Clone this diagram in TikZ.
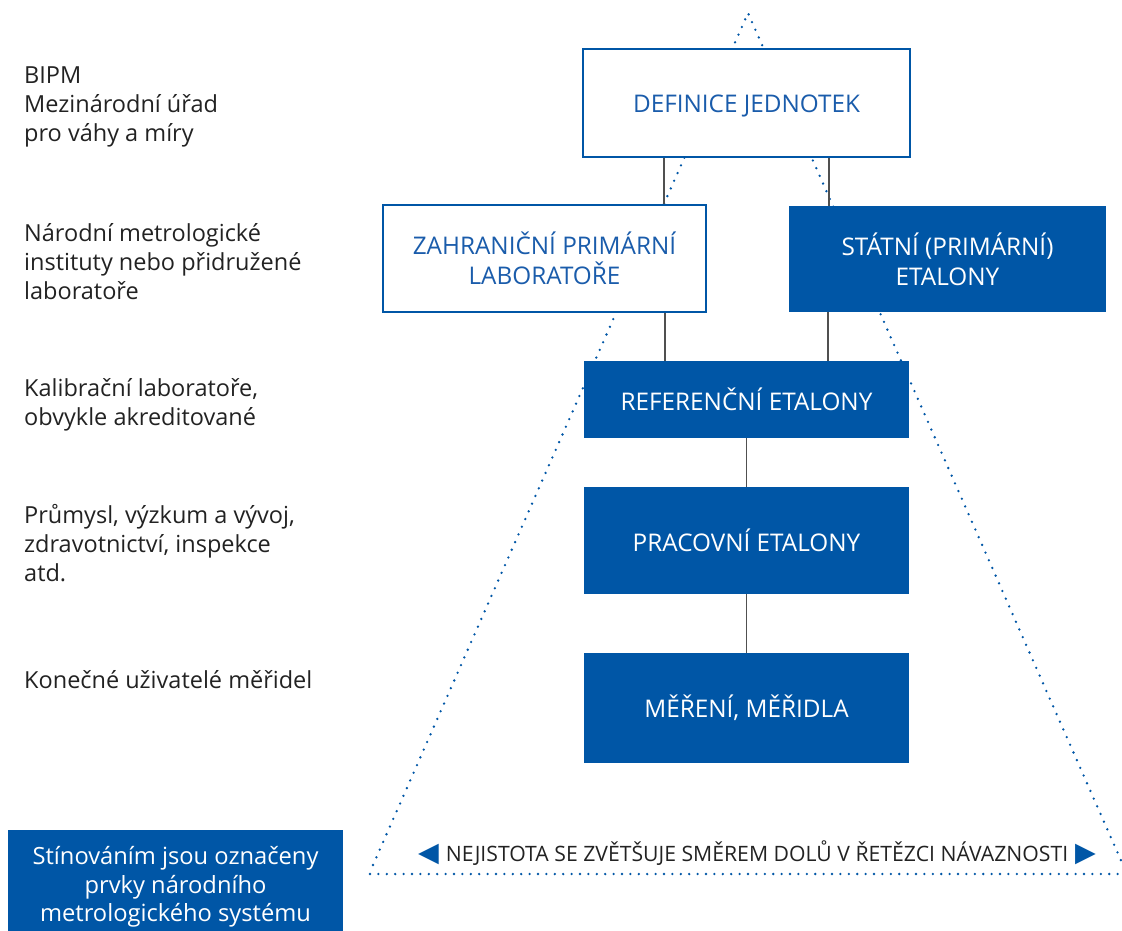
\documentclass[tikz,border=0pt]{standalone}
\usepackage{fontspec}
\setmainfont{Open Sans}
\newfontfamily\symfont{DejaVu Sans}
\usetikzlibrary{calc}
\definecolor{mblue}{HTML}{0056A6}
\definecolor{tblue}{HTML}{1A5CAB}
\definecolor{conn}{HTML}{505050}
\definecolor{ink}{HTML}{222222}
\tikzset{
  whitebox/.style={draw=mblue, line width=2.5pt, fill=white, text=tblue, inner sep=0pt, align=center, font=\fontsize{24.3}{30}\selectfont},
  bluebox/.style={fill=mblue, draw=none, text=white, inner sep=0pt, align=center, font=\fontsize{24.3}{30}\selectfont},
  sidelabel/.style={anchor=north west, align=left, text=ink, inner sep=0pt, font=\fontsize{23.5}{29}\selectfont},
  dotline/.style={draw=mblue, line width=2.6pt, line cap=round, dash pattern=on 0pt off 8.4pt},
  connector/.style={draw=conn, line width=1.5pt}
}
\begin{document}
\begin{tikzpicture}[x=1pt,y=-1pt]
\useasboundingbox (0,0) rectangle (1122,931);
% dotted uncertainty triangle
\coordinate (apex) at (748,13);
\coordinate (bl) at (373,865);
\coordinate (br) at (1123,865);
\coordinate (lb) at (370,874);
\coordinate (rb) at (1122,874);
\draw[dotline] (bl) -- (apex) -- (br);
\draw[dotline] (lb) -- (rb);
% boxes
\node[whitebox, minimum width=327pt, minimum height=108pt] (def) at (746.5,103) {\raisebox{-10pt}[0pt][0pt]{DEFINICE JEDNOTEK}};
\node[whitebox, minimum width=323pt, minimum height=107pt] (zahr) at (544.5,258.5) {ZAHRANIČNÍ PRIMÁRNÍ\\LABORATOŘE};
\node[bluebox, minimum width=317pt, minimum height=106pt] (stat) at (947.5,259) {STÁTNÍ (PRIMÁRNÍ)\\ETALONY};
\node[bluebox, minimum width=325pt, minimum height=77pt] (ref) at (746.5,399.5) {REFERENČNÍ ETALONY};
\node[bluebox, minimum width=325pt, minimum height=107pt] (prac) at (746.5,540.5) {PRACOVNÍ ETALONY};
\node[bluebox, minimum width=325pt, minimum height=110pt] (mer) at (746.5,708) {MĚŘENÍ, MĚŘIDLA};
% connectors
\coordinate (d1) at ($(def.south west)!0.25!(def.south east)$);
\coordinate (d2) at ($(def.south west)!0.75!(def.south east)$);
\coordinate (r1) at ($(ref.north west)!0.25!(ref.north east)$);
\coordinate (r2) at ($(ref.north west)!0.75!(ref.north east)$);
\draw[connector] (d1) -- (d1 |- zahr.north);
\draw[connector] (d2) -- (d2 |- stat.north);
\draw[connector] (r1 |- zahr.south) -- (r1);
\draw[connector] (r2 |- stat.south) -- (r2);
\draw[connector] (ref.south) -- (prac.north);
\draw[connector] (prac.south) -- (mer.north);
% side labels
\node[sidelabel] (l1) at (24,66.5) {BIPM\\Mezinárodní úřad\\pro váhy a míry};
\node[sidelabel] (l2) at (24,223) {Národní metrologické\\instituty nebo přidružené\\laboratoře};
\node[sidelabel] (l3) at (24,378.5) {Kalibrační laboratoře,\\obvykle akreditované};
\node[sidelabel] (l4) at (24,504) {Průmysl, výzkum a vývoj,\\zdravotnictví, inspekce\\atd.};
\node[sidelabel] (l5) at (24,670) {Konečné uživatelé měřidel};
% uncertainty note
\node[inner sep=0pt, text=ink] (unc) at (757,853) {{\symfont\fontsize{27}{27}\selectfont\textcolor{mblue}{◀}}\hspace{7pt}{\fontsize{21.2}{21}\selectfont NEJISTOTA SE ZVĚTŠUJE SMĚREM DOLŮ V ŘETĚZCI NÁVAZNOSTI}\hspace{7pt}{\symfont\fontsize{27}{27}\selectfont\textcolor{mblue}{▶}}};
% legend
\node[bluebox, minimum width=335pt, minimum height=101pt] (legend) at (175.5,880.5) {};
\node[inner sep=0pt, align=center, text=white, font=\fontsize{23.7}{28.5}\selectfont] (legendtext) at ($(legend.center)+(0,6.5)$) {Stínováním jsou označeny\\prvky národního\\metrologického systému};
\end{tikzpicture}
\end{document}
